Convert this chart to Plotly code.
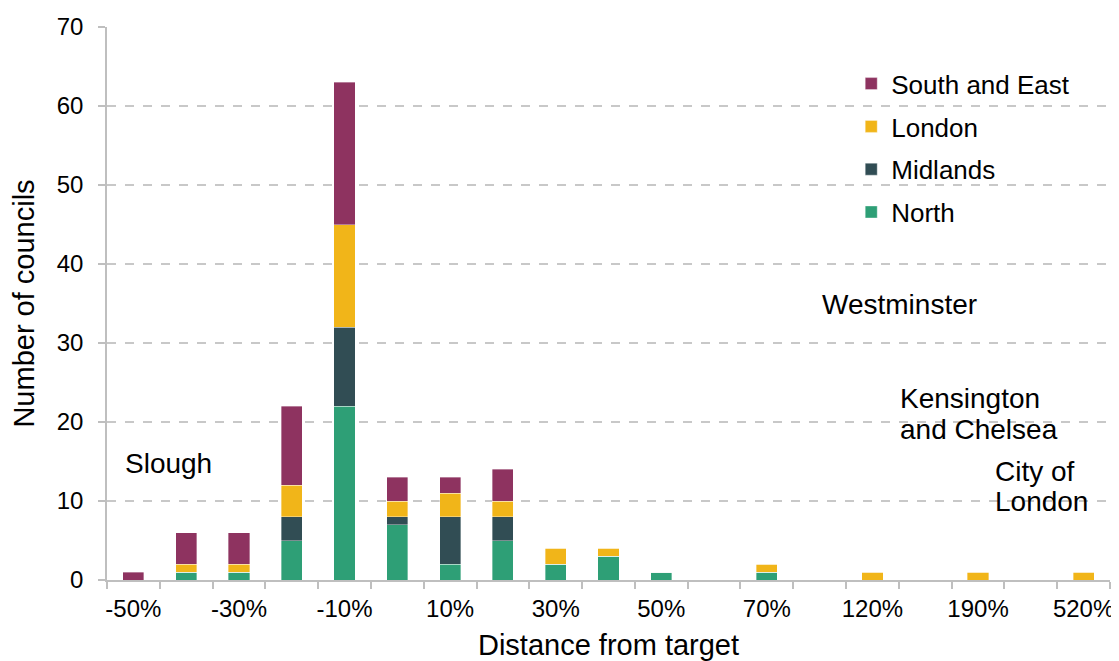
import plotly.graph_objects as go

categories = ["-50%", "-40%", "-30%", "-20%", "-10%", "0%", "10%", "20%", "30%", "40%",
              "50%", "60%", "70%", "80%", "120%", "150%", "190%", "300%", "520%"]
north = [0, 1, 1, 5, 22, 7, 2, 5, 2, 3, 1, 0, 1, 0, 0, 0, 0, 0, 0]
midlands = [0, 0, 0, 3, 10, 1, 6, 3, 0, 0, 0, 0, 0, 0, 0, 0, 0, 0, 0]
london = [0, 1, 1, 4, 13, 2, 3, 2, 2, 1, 0, 0, 1, 0, 1, 0, 1, 0, 1]
south_east = [1, 4, 4, 10, 18, 3, 2, 4, 0, 0, 0, 0, 0, 0, 0, 0, 0, 0, 0]
tick_labels = ["-50%", "-30%", "-10%", "10%", "30%", "50%", "70%", "120%", "190%", "520%"]

x = list(range(len(categories)))
series = [("North", north, "#2E9F76", 4), ("Midlands", midlands, "#314D54", 3),
          ("London", london, "#F1B519", 2), ("South and East", south_east, "#8E3360", 1)]

fig = go.Figure()
for name, vals, col, rank in series:
    fig.add_trace(go.Bar(x=x, y=vals, name=name,
                         marker=dict(color=col, line=dict(color="rgba(255,255,255,0.6)", width=0.6)),
                         width=0.4, legendgroup=name, legendrank=rank, hovertext=categories))

font = "Liberation Sans, Arial, sans-serif"
fig.update_layout(
    barmode="stack", width=1111, height=653,
    margin=dict(l=99, r=9, t=19, b=81, autoexpand=False),
    plot_bgcolor="white", paper_bgcolor="white",
    font=dict(family=font, size=24, color="black"),
    legend=dict(x=0.742, y=0.94, xanchor="left", yanchor="top", traceorder="grouped",
                tracegroupgap=6, font=dict(size=26), itemwidth=30, bgcolor="rgba(0,0,0,0)"),
    xaxis=dict(range=[-0.5, 18.5], tickvals=[0, 2, 4, 6, 8, 10, 12, 14, 16, 18], ticktext=tick_labels,
               ticks="", showline=True, linecolor="#BFBFBF", linewidth=1.5, showgrid=False, zeroline=False,
               ticklabelstandoff=6, ticklabeloverflow="allow", automargin=False,
               minor=dict(tick0=-0.5, dtick=1, ticks="outside", ticklen=7, tickcolor="#BFBFBF", tickwidth=1.5, showgrid=False),
               title=dict(text="Distance from target", standoff=14), tickfont=dict(size=24)),
    yaxis=dict(range=[0, 70], dtick=10, ticks="outside", ticklen=7, tickcolor="#BFBFBF", tickwidth=1.5,
               showline=True, linecolor="#BFBFBF", linewidth=1.5, showgrid=True, gridcolor="#C8C8C8",
               griddash="dash", gridwidth=1.5, zeroline=False, ticklabelstandoff=10, automargin=False,
               title=dict(text="Number of councils", standoff=14), tickfont=dict(size=24)),
)

ann = dict(showarrow=False, font=dict(family=font, size=28, color="black"))
fig.add_annotation(x=0.66, y=14.8, text="Slough", xanchor="center", **ann)
fig.add_annotation(x=14.52, y=34.9, text="Westminster", xanchor="center", **ann)
fig.add_annotation(x=14.48, y=23.0, text="Kensington", xanchor="left", **ann)
fig.add_annotation(x=14.48, y=19.1, text="and Chelsea", xanchor="left", **ann)
fig.add_annotation(x=16.28, y=13.7, text="City of", xanchor="left", **ann)
fig.add_annotation(x=16.28, y=9.9, text="London", xanchor="left", **ann)

fig.write_html("out.html")
